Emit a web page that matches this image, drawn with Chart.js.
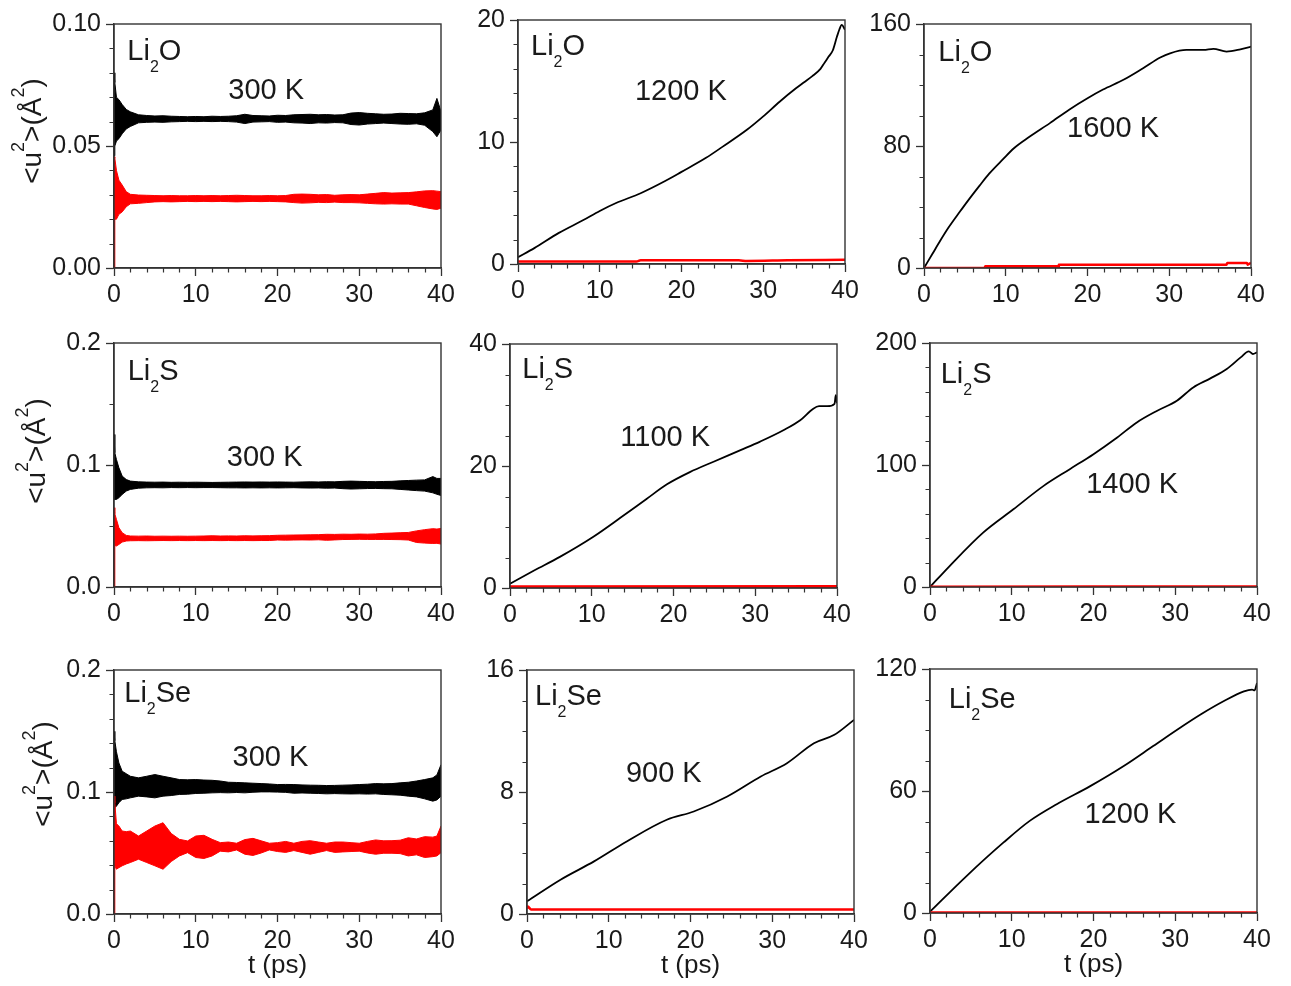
<!DOCTYPE html>
<html>
<head>
<meta charset="utf-8">
<script src="https://cdn.jsdelivr.net/npm/chart.js@4.4.0/dist/chart.umd.min.js"></script>
<style>
  body { margin: 0; background: #fff; }
  #wrap { position: relative; width: 1291px; height: 986px; overflow: hidden; }
  #wrap canvas { position: absolute; }
</style>
</head>
<body>
<div id="wrap"></div>
<script>
// ---- data ----
// time grid for the noisy 300 K runs (ps)
const tNoise = [0, 0.1, 0.3, 0.6, 1, 1.5, 2, 3, 4, 5, 6, 7, 8, 9, 10, 11, 12, 13, 14, 15, 16, 17, 18, 19, 20,
  21, 22, 23, 24, 25, 26, 27, 28, 29, 30, 31, 32, 33, 34, 35, 36, 37, 38, 39, 39.5, 40];

// Li2O 300 K, upper / lower edge of the fluctuating band
const li2oBlkHi = [0.080, 0.076, 0.070, 0.069, 0.067, 0.065, 0.064,
  0.0628, 0.0625, 0.0623, 0.0624, 0.0622, 0.0621, 0.0620, 0.0621, 0.0620, 0.0622,
  0.0621, 0.0622, 0.0624, 0.0630, 0.0625, 0.0624, 0.0623, 0.0626, 0.0625, 0.0628,
  0.0629, 0.0630, 0.0628, 0.0629, 0.0627, 0.0628, 0.0635, 0.0637, 0.0634, 0.0632,
  0.0630, 0.0631, 0.0634, 0.0633, 0.0632, 0.0636, 0.0648, 0.0695, 0.0641];
const li2oBlkLo = [0.046, 0.050, 0.052, 0.053, 0.055, 0.057, 0.058,
  0.0595, 0.0597, 0.0598, 0.0597, 0.0599, 0.0600, 0.0601, 0.0600, 0.0601, 0.0600,
  0.0601, 0.0600, 0.0598, 0.0592, 0.0598, 0.0599, 0.0600, 0.0597, 0.0598, 0.0595,
  0.0594, 0.0592, 0.0595, 0.0594, 0.0596, 0.0595, 0.0588, 0.0586, 0.0590, 0.0592,
  0.0594, 0.0592, 0.0590, 0.0589, 0.0591, 0.0585, 0.0559, 0.0538, 0.0566];
const li2oRedHi = [0.0456, 0.045, 0.040, 0.036, 0.034, 0.0313, 0.0302,
  0.0299, 0.0298, 0.0297, 0.0296, 0.0297, 0.0296, 0.0296, 0.0297, 0.0296, 0.0297,
  0.0296, 0.0297, 0.0298, 0.0297, 0.0296, 0.0296, 0.0297, 0.0296, 0.0297, 0.0302,
  0.0303, 0.0302, 0.0300, 0.0301, 0.0298, 0.0300, 0.0301, 0.0300, 0.0303, 0.0306,
  0.0309, 0.0307, 0.0308, 0.0309, 0.0312, 0.0316, 0.0317, 0.0315, 0.0313];
const li2oRedLo = [0, 0.020, 0.020, 0.022, 0.023, 0.0251, 0.0263,
  0.0265, 0.0268, 0.0271, 0.0272, 0.0271, 0.0272, 0.0273, 0.0272, 0.0273, 0.0272,
  0.0273, 0.0272, 0.0271, 0.0272, 0.0273, 0.0272, 0.0273, 0.0272, 0.0271, 0.0268,
  0.0266, 0.0267, 0.0269, 0.0268, 0.0270, 0.0268, 0.0268, 0.0267, 0.0265, 0.0263,
  0.0262, 0.0263, 0.0262, 0.0262, 0.0255, 0.0248, 0.0242, 0.0240, 0.0245];

// Li2S 300 K
const li2sBlkHi = [0.125, 0.110, 0.1045, 0.0977, 0.0909, 0.0881, 0.0868,
  0.0862, 0.0860, 0.0859, 0.0860, 0.0858, 0.0859, 0.0858, 0.0859, 0.0858, 0.0857,
  0.0858, 0.0859, 0.0860, 0.0861, 0.0860, 0.0861, 0.0860, 0.0861, 0.0860, 0.0859,
  0.0861, 0.0862, 0.0861, 0.0863, 0.0862, 0.0866, 0.0868, 0.0866, 0.0864, 0.0863,
  0.0865, 0.0866, 0.0870, 0.0873, 0.0876, 0.0878, 0.0905, 0.0890, 0.0890];
const li2sBlkLo = [0.0718, 0.0718, 0.0718, 0.0731, 0.0759, 0.0786, 0.0800,
  0.0810, 0.0813, 0.0814, 0.0813, 0.0815, 0.0814, 0.0815, 0.0814, 0.0815, 0.0815,
  0.0814, 0.0813, 0.0813, 0.0812, 0.0813, 0.0812, 0.0813, 0.0812, 0.0813, 0.0814,
  0.0812, 0.0811, 0.0812, 0.0810, 0.0811, 0.0806, 0.0803, 0.0805, 0.0807, 0.0808,
  0.0806, 0.0805, 0.0800, 0.0795, 0.0790, 0.0786, 0.0772, 0.0760, 0.0750];
const li2sRedHi = [0.065, 0.060, 0.0554, 0.0486, 0.0445, 0.0423, 0.0418,
  0.0417, 0.0418, 0.0416, 0.0417, 0.0416, 0.0417, 0.0416, 0.0417, 0.0418, 0.0420,
  0.0418, 0.0419, 0.0418, 0.0420, 0.0419, 0.0420, 0.0421, 0.0424, 0.0425, 0.0426,
  0.0427, 0.0428, 0.0429, 0.0432, 0.0431, 0.0433, 0.0432, 0.0434, 0.0433, 0.0435,
  0.0440, 0.0442, 0.0445, 0.0447, 0.0460, 0.0470, 0.0478, 0.0475, 0.0480];
const li2sRedLo = [0, 0.034, 0.0336, 0.0349, 0.0368, 0.0377, 0.0379,
  0.0380, 0.0379, 0.0380, 0.0381, 0.0380, 0.0381, 0.0380, 0.0381, 0.0380, 0.0381,
  0.0380, 0.0381, 0.0380, 0.0381, 0.0380, 0.0381, 0.0381, 0.0385, 0.0384, 0.0385,
  0.0386, 0.0385, 0.0387, 0.0383, 0.0386, 0.0389, 0.0390, 0.0391, 0.0390, 0.0390,
  0.0390, 0.0389, 0.0388, 0.0385, 0.0365, 0.0360, 0.0357, 0.0358, 0.0352];

// Li2Se 300 K
const li2seBlkHi = [0.1497, 0.142, 0.1330, 0.1238, 0.1170, 0.1150, 0.1129,
  0.1116, 0.1129, 0.1143, 0.1129, 0.1116, 0.1102, 0.1100, 0.1102, 0.1098, 0.1096,
  0.1090, 0.1080, 0.1078, 0.1075, 0.1072, 0.1069, 0.1066, 0.1061, 0.1062, 0.1061,
  0.1058, 0.1056, 0.1055, 0.1053, 0.1054, 0.1056, 0.1058, 0.1061, 0.1064, 0.1069,
  0.1067, 0.1069, 0.1075, 0.1080, 0.1090, 0.1102, 0.1116, 0.1140, 0.1224];
const li2seBlkLo = [0.0857, 0.0870, 0.0884, 0.0912, 0.0939, 0.0944, 0.0952,
  0.0966, 0.0960, 0.0952, 0.0966, 0.0971, 0.0980, 0.0982, 0.0988, 0.0990, 0.0993,
  0.0995, 0.0993, 0.0996, 0.0993, 0.0998, 0.1001, 0.1001, 0.0999, 0.0997, 0.0990,
  0.0992, 0.0990, 0.0988, 0.0985, 0.0987, 0.0985, 0.0984, 0.0985, 0.0983, 0.0985,
  0.0980, 0.0977, 0.0974, 0.0966, 0.0960, 0.0944, 0.0925, 0.0935, 0.0966];
const li2seRedHi = [0.0966, 0.0911, 0.0740, 0.0721, 0.0680, 0.0675, 0.0680,
  0.0639, 0.0680, 0.0721, 0.0748, 0.0660, 0.0612, 0.0599, 0.0639, 0.0645, 0.0612,
  0.0585, 0.0590, 0.0580, 0.0610, 0.0620, 0.0600, 0.0580, 0.0585, 0.0595, 0.0580,
  0.0595, 0.0601, 0.0590, 0.0580, 0.0590, 0.0590, 0.0585, 0.0580, 0.0595, 0.0607,
  0.0600, 0.0601, 0.0605, 0.0625, 0.0615, 0.0634, 0.0630, 0.0639, 0.0721];
const li2seRedLo = [0, 0.0395, 0.0367, 0.0380, 0.0395, 0.0410, 0.0422,
  0.0449, 0.0422, 0.0395, 0.0367, 0.0430, 0.0476, 0.0503, 0.0463, 0.0455, 0.0476,
  0.0515, 0.0509, 0.0525, 0.0490, 0.0480, 0.0500, 0.0525, 0.0512, 0.0505, 0.0520,
  0.0505, 0.0490, 0.0505, 0.0520, 0.0505, 0.0509, 0.0512, 0.0515, 0.0500, 0.0490,
  0.0498, 0.0498, 0.0495, 0.0476, 0.0485, 0.0463, 0.0470, 0.0476, 0.0503];

// high temperature runs (black = Li, red = anion)
const tLi2o1200 = [0, 2, 5, 8, 10, 12, 15, 18, 20, 23, 25, 28, 30, 32, 34, 35, 36, 37, 37.5, 38, 38.5, 39, 39.3, 39.6, 40];
const li2o1200 = [0.55, 1.3, 2.55, 3.6, 4.35, 5.0, 5.8, 6.8, 7.55, 8.7, 9.6, 11.0, 12.1, 13.3, 14.4, 14.9, 15.4, 16.0, 16.5, 17.0, 17.5, 18.6, 19.2, 19.6, 19.2];
const tLi2o1200Red = [0, 14.5, 15, 27, 28, 33, 40];
const li2o1200Red = [0.2, 0.2, 0.3, 0.3, 0.25, 0.3, 0.35];

const tLi2o1600 = [0, 1, 2, 3, 4.4, 5.5, 6.8, 8, 9.7, 11, 12.9, 15.4, 17.8, 19.9, 21.9, 24.4, 26.8, 28.9, 30.1, 32.1, 34.2, 35.4, 37, 38.7, 40];
const li2o1600 = [0, 9, 18, 26.5, 37, 45, 54, 62, 71.5, 78.5, 86, 95, 104, 111, 117, 123.4, 131, 138, 140.8, 143.0, 143.0, 143.7, 141.9, 143.4, 145.2];
const tLi2o1600Red = [0, 7.4, 7.5, 16.4, 16.5, 37, 37.1, 39.5, 39.6, 40];
const li2o1600Red = [0, 0, 1.1, 1.1, 2.2, 2.2, 3.3, 3.3, 2.2, 3.3];

const tLi2s1100 = [0, 3, 6.1, 10.2, 13.5, 16.7, 19.2, 22, 24.9, 28.2, 30.6, 33.5, 35.5, 37.1, 37.8, 38.8, 39.7, 39.85, 40];
const li2s1100 = [0.7, 2.9, 5.1, 8.4, 11.5, 14.6, 17.0, 19.0, 20.7, 22.6, 24.0, 25.9, 27.5, 29.4, 29.8, 29.8, 30.2, 31.6, 30.3];
const tLi2s1100Red = [0, 40];
const li2s1100Red = [0.25, 0.3];

const tLi2s1400 = [0, 2.4, 6.5, 10.2, 13.9, 17.1, 20, 22.9, 25.3, 27.8, 30.2, 32.2, 34.3, 36.3, 38, 39, 39.5, 40];
const li2s1400 = [0, 17.2, 44.6, 63.7, 82.9, 96.6, 108.9, 122.6, 134.9, 144.5, 152.7, 163.6, 171, 178.7, 188.2, 193.2, 191, 192.3];
const tLi2s1400Red = [0, 40];
const li2s1400Red = [0.3, 0.4];

const tLi2se900 = [0, 4.1, 8.2, 12.2, 17.1, 20.4, 24.5, 28.6, 31.8, 35.1, 37.6, 40];
const li2se900 = [0.83, 2.25, 3.45, 4.76, 6.18, 6.72, 7.71, 9.02, 9.89, 11.2, 11.75, 12.73];
const tLi2se900Red = [0, 0.1, 0.5, 40];
const li2se900Red = [0.35, 0.5, 0.3, 0.3];

const tLi2se1200 = [0, 4.5, 9, 12.2, 15.5, 19.6, 23.7, 27.3, 30.6, 33.1, 35.9, 38.4, 39.4, 39.7, 40];
const li2se1200 = [0.65, 18.3, 34.7, 45.3, 53.5, 62.4, 72.3, 82.1, 91.1, 97.6, 104.1, 109, 109.9, 109.5, 113.1];
const tLi2se1200Red = [0, 40];
const li2se1200Red = [0.2, 0.3];

const xTicks = [0, 10, 20, 30, 40];

// ---- layout ----
const FONT = "'Liberation Sans', Arial, Helvetica, sans-serif";
const TXT = '#1a1a1a';
const AX = '#333';
const PW = 327, PH = 244;          // plot box size
const ML = 110, MT = 30, MR = 30, MB = 80;

const LI2O = [['Li', 0], ['2', 1], ['O', 0]];
const LI2S = [['Li', 0], ['2', 1], ['S', 0]];
const LI2SE = [['Li', 0], ['2', 1], ['Se', 0]];

const panels = [
  { at: [114, 24], y: [0, 0.10, 0.05, 0.01, 2], name: LI2O, nameAt: [1.63, 0.0852], temp: '300 K', tempAt: [13.98, 0.0693],
    bands: [[tNoise, li2oRedHi, li2oRedLo, 'red'], [tNoise, li2oBlkHi, li2oBlkLo, 'black']], lines: [], yTitle: [41, -15] },
  { at: [518, 20], y: [0, 20, 10, 2, 0], name: LI2O, nameAt: [1.59, 17.13], temp: '1200 K', tempAt: [14.3, 13.44],
    bands: [], lines: [[tLi2o1200Red, li2o1200Red, 'red'], [tLi2o1200, li2o1200, 'black']] },
  { at: [924, 24], y: [0, 160, 80, 20, 0], name: LI2O, nameAt: [1.75, 135.9], temp: '1600 K', tempAt: [17.5, 86.1],
    bands: [], lines: [[tLi2o1600Red, li2o1600Red, 'red', true], [tLi2o1600, li2o1600, 'black']] },
  { at: [114, 343], y: [0, 0.2, 0.1, 0.05, 1], name: LI2S, nameAt: [1.68, 0.170], temp: '300 K', tempAt: [13.8, 0.099],
    bands: [[tNoise, li2sRedHi, li2sRedLo, 'red'], [tNoise, li2sBlkHi, li2sBlkLo, 'black']], lines: [], yTitle: [45, -14] },
  { at: [510, 344], y: [0, 40, 20, 5, 0], name: LI2S, nameAt: [1.5, 34.5], temp: '1100 K', tempAt: [13.5, 23.3],
    bands: [], lines: [[tLi2s1100Red, li2s1100Red, 'red'], [tLi2s1100, li2s1100, 'black']] },
  { at: [930, 343], y: [0, 200, 100, 20, 0], name: LI2S, nameAt: [1.31, 167.5], temp: '1400 K', tempAt: [19.1, 77.3],
    bands: [], lines: [[tLi2s1400Red, li2s1400Red, 'red'], [tLi2s1400, li2s1400, 'black']] },
  { at: [114, 670], y: [0, 0.2, 0.1, 0.02, 1], name: LI2SE, nameAt: [1.26, 0.174], temp: '300 K', tempAt: [14.5, 0.121],
    bands: [[tNoise, li2seRedHi, li2seRedLo, 'red'], [tNoise, li2seBlkHi, li2seBlkLo, 'black']], lines: [], yTitle: [52, -18], xTitle: true },
  { at: [527, 670], y: [0, 16, 8, 2, 0], name: LI2SE, nameAt: [0.98, 13.7], temp: '900 K', tempAt: [12.1, 8.68],
    bands: [], lines: [[tLi2se900Red, li2se900Red, 'red'], [tLi2se900, li2se900, 'black']], xTitle: true },
  { at: [930, 669], y: [0, 120, 60, 15, 0], name: LI2SE, nameAt: [2.3, 100.7], temp: '1200 K', tempAt: [18.9, 44.4],
    bands: [], lines: [[tLi2se1200Red, li2se1200Red, 'red'], [tLi2se1200, li2se1200, 'black']], xTitle: true }
];

const COLORS = { red: '#ff0000', black: '#000000' };

// draws text with sub (1) / superscript (-1) pieces
function drawRich(ctx, parts, x, y, size, small, lift, drop, center) {
  const items = parts.map(([s, k]) => {
    const fs = k ? small : size;
    ctx.font = fs + 'px ' + FONT;
    return { s, k, fs, w: ctx.measureText(s).width };
  });
  const total = items.reduce((a, b) => a + b.w, 0);
  let cx = center ? x - total / 2 : x;
  items.forEach(it => {
    ctx.font = it.fs + 'px ' + FONT;
    const dy = it.k === 1 ? drop : it.k === -1 ? -lift : 0;
    ctx.fillText(it.s, cx, y + dy);
    cx += it.w;
  });
}

const deco = {
  id: 'deco',
  afterDraw(chart, args, o) {
    const { ctx, chartArea: a, scales: { x, y } } = chart;
    const p = o.panel;
    ctx.save();
    // box
    ctx.strokeStyle = AX;
    ctx.lineWidth = 1.4;
    ctx.strokeRect(a.left, a.top, a.right - a.left, a.bottom - a.top);
    // minor ticks
    ctx.lineWidth = 1.2;
    ctx.beginPath();
    for (let v = 0; v <= 40 + 1e-9; v += 2) {
      if (Math.abs(v / 10 - Math.round(v / 10)) < 1e-6) continue;
      const px = Math.round(x.getPixelForValue(v)) + 0.5;
      ctx.moveTo(px, a.bottom); ctx.lineTo(px, a.bottom + 4.5);
    }
    const [ymin, ymax, ymaj, ymin2] = p.y;
    const n = Math.round((ymax - ymin) / ymin2);
    for (let k = 0; k <= n; k++) {
      const v = ymin + k * ymin2;
      const r = v / ymaj;
      if (Math.abs(r - Math.round(r)) < 1e-6) continue;
      const py = Math.round(y.getPixelForValue(v)) + 0.5;
      ctx.moveTo(a.left, py); ctx.lineTo(a.left - 4.5, py);
    }
    ctx.stroke();

    ctx.fillStyle = TXT;
    ctx.textBaseline = 'alphabetic';
    ctx.textAlign = 'left';
    drawRich(ctx, p.name, x.getPixelForValue(p.nameAt[0]), y.getPixelForValue(p.nameAt[1]), 29, 16, 0, 12, false);
    ctx.font = '29px ' + FONT;
    ctx.fillText(p.temp, x.getPixelForValue(p.tempAt[0]), y.getPixelForValue(p.tempAt[1]));

    if (p.yTitle) {
      ctx.save();
      ctx.translate(p.yTitle[0] - p.at[0] + ML, (a.top + a.bottom) / 2 + p.yTitle[1]);
      ctx.rotate(-Math.PI / 2);
      drawRich(ctx, [['<u', 0], ['2', -1], ['>(Å', 0], ['2', -1], [')', 0]], 0, 0, 28, 18, 17, 0, true);
      ctx.restore();
    }
    if (p.xTitle) {
      ctx.font = '26px ' + FONT;
      ctx.textAlign = 'center';
      ctx.fillText('t (ps)', (a.left + a.right) / 2, a.bottom + 59);
    }
    ctx.restore();
  }
};

function pts(t, v) { return t.map((tt, i) => ({ x: tt, y: v[i] })); }

const wrap = document.getElementById('wrap');
panels.forEach(p => {
  const c = document.createElement('canvas');
  const w = ML + PW + MR, h = MT + PH + MB;
  c.width = w; c.height = h;
  c.style.width = w + 'px'; c.style.height = h + 'px';
  c.style.left = (p.at[0] - ML) + 'px';
  c.style.top = (p.at[1] - MT) + 'px';
  wrap.appendChild(c);

  const datasets = [];
  p.bands.forEach(([t, hi, lo, col]) => {
    datasets.push({ data: pts(t, hi), borderColor: COLORS[col], borderWidth: 1, fill: false });
    datasets.push({ data: pts(t, lo), borderColor: COLORS[col], borderWidth: 1, backgroundColor: COLORS[col], fill: '-1' });
  });
  p.lines.forEach(([t, v, col, step]) => {
    datasets.push({ data: pts(t, v), borderColor: COLORS[col], borderWidth: col === 'red' ? 2.5 : 1.8,
      fill: false, cubicInterpolationMode: step ? 'default' : 'monotone', tension: step ? 0 : 0.4 });
  });

  const [ymin, ymax, ymaj, , dec] = p.y;
  new Chart(c.getContext('2d'), {
    type: 'line',
    data: { datasets },
    options: {
      responsive: false,
      animation: false,
      events: [],
      layout: { padding: { top: MT, right: MR, left: 0, bottom: 0 } },
      elements: { point: { radius: 0 }, line: { borderJoinStyle: 'round' } },
      plugins: { legend: { display: false }, tooltip: { enabled: false }, deco: { panel: p } },
      scales: {
        x: {
          type: 'linear', min: 0, max: 40,
          afterBuildTicks: s => { s.ticks = xTicks.map(v => ({ value: v })); },
          ticks: { font: { family: FONT, size: 25 }, color: TXT, padding: 4, maxRotation: 0, autoSkip: false },
          grid: { drawOnChartArea: false, tickLength: 8, tickWidth: 1.3, tickColor: AX },
          border: { color: AX, width: 1.4 },
          afterFit: s => { s.height = MB; }
        },
        y: {
          type: 'linear', min: ymin, max: ymax,
          ticks: { stepSize: ymaj, font: { family: FONT, size: 25 }, color: TXT, padding: 5,
            callback: v => (+v).toFixed(dec) },
          grid: { drawOnChartArea: false, tickLength: 8, tickWidth: 1.3, tickColor: AX },
          border: { color: AX, width: 1.4 },
          afterFit: s => { s.width = ML; }
        }
      }
    },
    plugins: [deco]
  });
});
</script>
</body>
</html>
